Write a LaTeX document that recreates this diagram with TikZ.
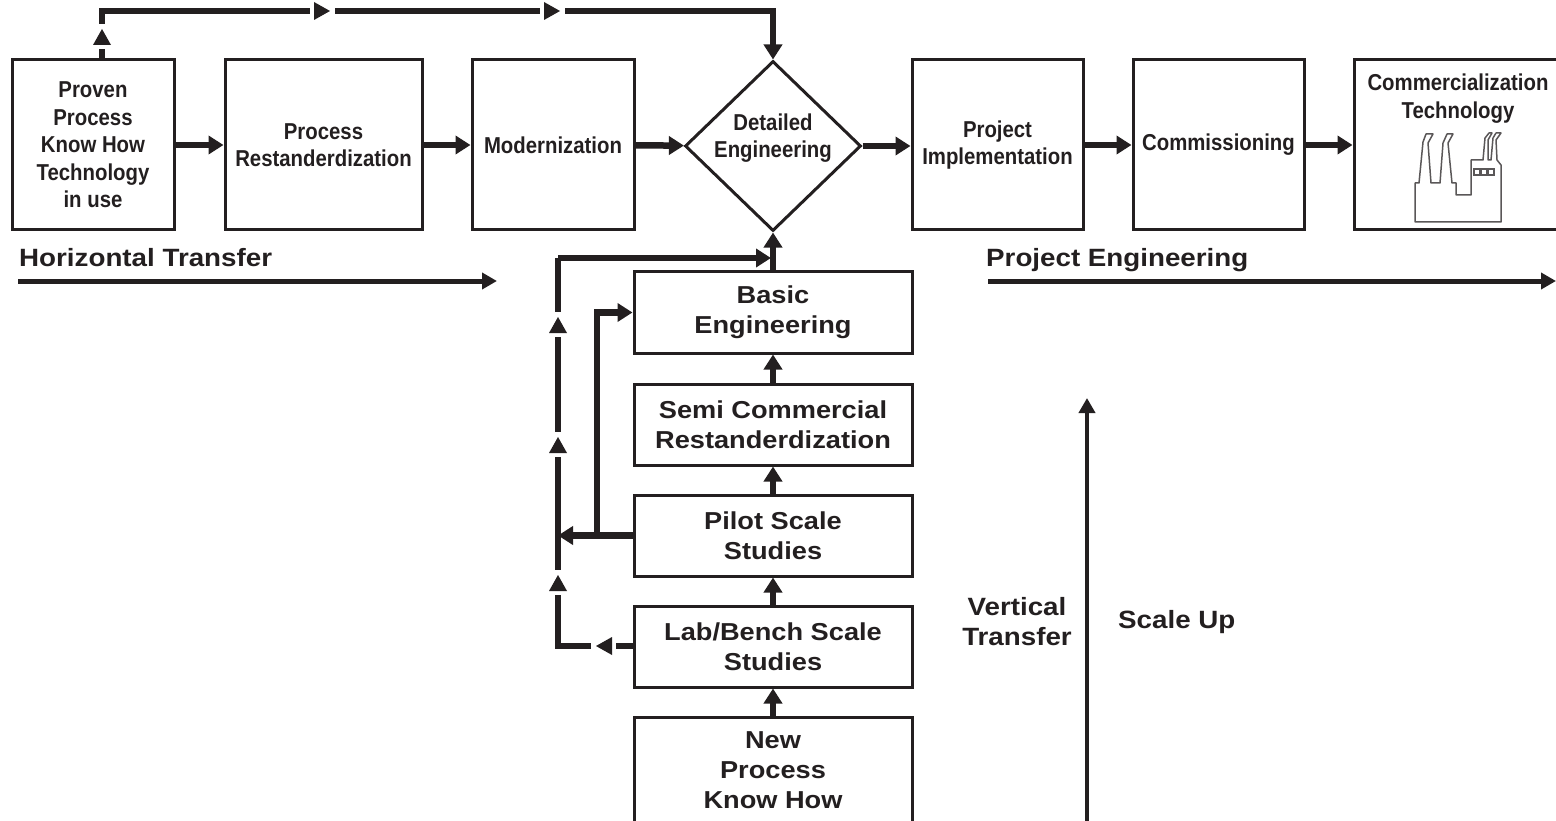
\documentclass[tikz,border=0pt]{standalone}
\usepackage{fontspec}
\setmainfont{Liberation Sans}
\newfontfamily\narrowfont[FakeStretch=0.885]{Liberation Sans}
\newfontfamily\widefont[FakeStretch=1.11]{Liberation Sans}
\usetikzlibrary{arrows.meta,shapes.geometric}
\definecolor{ink}{HTML}{231F20}
\tikzset{
    topbox/.style={draw=ink,line width=3pt,align=center,text=ink,inner sep=0pt,
        font=\narrowfont\bfseries\fontsize{23}{27.5}\selectfont},
    lowbox/.style={draw=ink,line width=3pt,align=center,text=ink,inner sep=0pt,
        minimum width=278pt,minimum height=81pt,
        font=\widefont\bfseries\fontsize{24.5}{30}\selectfont},
    caption/.style={align=center,text=ink,inner sep=0pt,
        font=\widefont\bfseries\fontsize{25}{30}\selectfont},
    flow/.style={draw=ink,line width=6.5pt,-{Triangle[length=15pt,width=18pt]}},
    plainflow/.style={draw=ink,line width=6pt},
    longflow/.style={draw=ink,line width=5pt,-{Triangle[length=15pt,width=16pt]}},
    gaptip/.pic={
        \fill[white] (-12,-7) rectangle (13,7);
        \fill[ink] (-8,-9) -- (8,0) -- (-8,9) -- cycle;
    }
}
\begin{document}
\begin{tikzpicture}[x=1pt,y=-1pt]
    \useasboundingbox (0,0) rectangle (1556,821);
    \node[topbox,minimum width=162pt,minimum height=170pt] (proven) at (93,145) {Proven\\Process\\Know How\\Technology\\in use};
    \node[topbox,minimum width=197pt,minimum height=170pt] (restand) at (323.5,145) {Process\\Restanderdization};
    \node[topbox,minimum width=162pt,minimum height=170pt] (modern) at (553,145) {Modernization};
    \node[topbox,shape=diamond,aspect=1.05,minimum width=176pt,minimum height=170pt] (detail) at (773,146) {};
    \node[topbox,draw=none] (detailtext) at (773,138) {Detailed\\Engineering};
    \node[topbox,minimum width=171pt,minimum height=170pt] (project) at (997.5,145) {Project\\Implementation};
    \node[topbox,minimum width=171pt,minimum height=170pt] (commission) at (1218.5,145) {Commissioning};
    \node[topbox,minimum width=206pt,minimum height=170pt] (commercial) at (1457,145) {};
    \node[topbox,draw=none] (commercialtext) at (1458,98.5) {Commercialization\\Technology};

    \node[lowbox] (basic) at (773,312.5) {Basic\\Engineering};
    \node[lowbox] (semi) at (773,424.5) {Semi Commercial\\Restanderdization};
    \node[lowbox] (pilot) at (773,535.5) {Pilot Scale\\Studies};
    \node[lowbox] (lab) at (773,646.5) {Lab/Bench Scale\\Studies};
    \node[lowbox,minimum height=106pt] (new) at (773,770) {New\\Process\\Know How};

    \node[caption,anchor=base west] (horizontal) at (19,266) {Horizontal Transfer};
    \node[caption,anchor=base west] (engineering) at (986,266) {Project Engineering};
    \node[caption] (vertical) at (1017,622) {Vertical\\Transfer};
    \node[caption,anchor=base west] (scaleup) at (1118,628) {Scale Up};

    \coordinate (riseleft) at (102,11);
    \coordinate (loopbottom) at (558,646);
    \coordinate (looptop) at (558,258);
    \coordinate (branch) at (597,535);
    \coordinate (joint) at (771,258);
    \coordinate (hstart) at (18,281);
    \coordinate (hend) at (497,281);
    \coordinate (pstart) at (988,281);
    \coordinate (pend) at (1556,281);
    \coordinate (sstart) at (1087,821);
    \coordinate (send) at (1087,398);

    \draw[flow] (proven) -- (restand);
    \draw[flow] (restand) -- (modern);
    \draw[flow] (modern) -- (detail);
    \draw[flow] (detail) -- (detail -| project.west);
    \draw[flow] (project) -- (commission);
    \draw[flow] (commission) -- (commercial);
    \draw[flow] (proven.north -| riseleft) -- (riseleft) -- (riseleft -| detail) -- (detail.north);
    \draw[flow] (semi) -- (basic);
    \draw[flow] (pilot) -- (semi);
    \draw[flow] (lab) -- (pilot);
    \draw[flow] (new) -- (lab);
    \draw[flow] (basic) -- (detail);
    \draw[plainflow] (lab.west |- loopbottom) -- (loopbottom) -- (looptop);
    \draw[flow] (looptop) -- (joint);
    \draw[flow] (pilot) -- (looptop |- pilot);
    \draw[flow] (branch) -- (branch |- basic) -- (basic);

    \pic[rotate=90] at (102,37) {gaptip};
    \pic at (322,11) {gaptip};
    \pic at (552,11) {gaptip};
    \pic[rotate=90] at (558,325) {gaptip};
    \pic[rotate=90] at (558,445) {gaptip};
    \pic[rotate=90] at (558,583) {gaptip};
    \pic[rotate=180] at (604,646) {gaptip};

    \draw[longflow] (hstart) -- (hend);
    \draw[longflow] (pstart) -- (pend);
    \draw[longflow,line width=4pt] (sstart) -- (send);

    \draw[ink!75,line width=1.5pt,line join=round] (1415,222) -- (1415,183) -- (1419,183) -- (1423,142) -- (1426,134) -- (1433,134) -- (1428,143) -- (1431,183) -- (1440,183) -- (1443,143) -- (1447,134) -- (1453,134) -- (1448,143) -- (1452,183) -- (1456,183) -- (1456,195) -- (1471,195) -- (1471,160) -- (1483,160) -- (1485,138) -- (1489,133) -- (1492,133) -- (1488,140) -- (1488,160) -- (1491,160) -- (1493,138) -- (1496,133) -- (1501,133) -- (1496,140) -- (1497,160) -- (1501,165) -- (1501,222) -- cycle;
    \foreach \x in {1474,1481,1488}
        \draw[ink!75,line width=1.5pt] (\x,169) rectangle (\x+6,175);
\end{tikzpicture}
\end{document}
